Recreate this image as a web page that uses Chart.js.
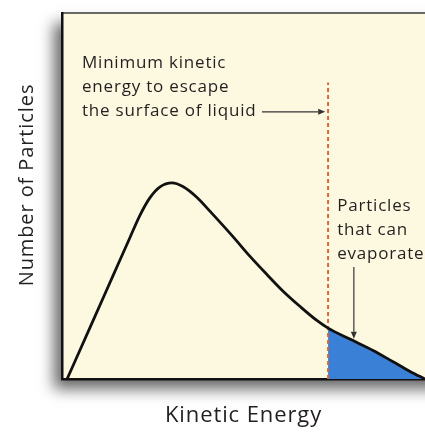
<!DOCTYPE html>
<html><head><meta charset="utf-8">
<script src="https://cdn.jsdelivr.net/npm/chart.js@4/dist/chart.umd.min.js"></script>
<style>html,body{margin:0;padding:0;background:#fff;overflow:hidden}#wrap{width:425px;height:432px}</style>
</head><body><div id="wrap"><canvas id="c" width="425" height="432"></canvas></div>
<script>
// ---- data ----
const energy    = [1.4, 8.5, 14.0, 18.7, 21.5, 24.2, 27.0, 30.3, 33.3, 37.2, 40.8, 47.1, 51.8, 56.5, 60.9, 65.6, 70.2, 73.3, 79.3, 85.7, 91.2, 96.0, 100];
const particles = [0, 15.8, 28.1, 38.6, 44.8, 49.5, 52.5, 53.6, 52.6, 49.6, 45.8, 38.9, 33.5, 28.5, 24.0, 19.8, 16.0, 13.9, 10.9, 7.8, 4.7, 2.0, 0];
const minEnergy = 73.3;          // minimum kinetic energy to escape
const thresholdTop = 81;
const xTitle = 'Kinetic Energy';
const yTitle = 'Number of Particles';
const escapeNote = ['Minimum kinetic', 'energy to escape', 'the surface of liquid'];
const evaporateNote = ['Particles', 'that can', 'evaporate'];

const curve = energy.map((x, i) => ({x, y: particles[i]}));
const tail = curve.filter(p => p.x >= minEnergy);
const threshold = [{x: minEnergy, y: 0}, {x: minEnergy, y: thresholdTop}];

const FONT = "'Open Sans', 'DejaVu Sans', sans-serif";

const boxPlugin = {
  id: 'box',
  beforeDraw(chart) {
    const {ctx, chartArea: a, width, height} = chart;
    ctx.letterSpacing = '0.9px';
    ctx.save();
    ctx.fillStyle = '#ffffff';
    ctx.fillRect(0, 0, width, height);
    ctx.shadowColor = 'rgba(0,0,0,0.6)';
    ctx.shadowBlur = 14;
    ctx.shadowOffsetX = -8;
    ctx.shadowOffsetY = 10;
    ctx.fillStyle = '#fdf9e1';
    ctx.fillRect(a.left, a.top, a.right - a.left + 40, a.bottom - a.top);
    ctx.restore();
    ctx.save();
    ctx.strokeStyle = '#3a3a3a';
    ctx.lineWidth = 1.5;
    ctx.beginPath();
    ctx.moveTo(a.left, a.top);
    ctx.lineTo(width, a.top);
    ctx.stroke();
    // y-axis title, centred on the labelled span of the axis
    ctx.fillStyle = '#231f20';
    ctx.font = '20px ' + FONT;
    ctx.letterSpacing = '0.9px';
    ctx.textAlign = 'center';
    ctx.textBaseline = 'middle';
    ctx.translate(27, (a.top + a.bottom) / 2 - 11);
    ctx.rotate(-Math.PI / 2);
    ctx.fillText(yTitle, 0, 0);
    ctx.restore();
  }
};

function arrow(ctx, x1, y1, x2, y2) {
  const ang = Math.atan2(y2 - y1, x2 - x1);
  const L = 7, W = 3;
  const c = Math.cos(ang), s = Math.sin(ang);
  ctx.beginPath();
  ctx.moveTo(x1, y1);
  ctx.lineTo(x2 - L * c, y2 - L * s);
  ctx.stroke();
  ctx.beginPath();
  ctx.moveTo(x2, y2);
  ctx.lineTo(x2 - L * c - W * s, y2 - L * s + W * c);
  ctx.lineTo(x2 - L * c + W * s, y2 - L * s - W * c);
  ctx.closePath();
  ctx.fill();
}

const notesPlugin = {
  id: 'notes',
  afterDatasetsDraw(chart) {
    const {ctx, scales: {x, y}} = chart;
    ctx.save();
    ctx.fillStyle = '#231f20';
    ctx.font = '17px ' + FONT;
    ctx.letterSpacing = '0.8px';
    ctx.textAlign = 'left';
    ctx.textBaseline = 'middle';
    const lh = 24;
    let px = x.getPixelForValue(5.5), py = y.getPixelForValue(86.3);
    escapeNote.forEach((t, i) => ctx.fillText(t, px, py + i * lh));
    px = x.getPixelForValue(75.8); py = y.getPixelForValue(47.3);
    evaporateNote.forEach((t, i) => ctx.fillText(t, px, py + i * lh));
    ctx.strokeStyle = '#333';
    ctx.fillStyle = '#333';
    ctx.lineWidth = 1.2;
    arrow(ctx, x.getPixelForValue(55.1), y.getPixelForValue(73.0), x.getPixelForValue(72.5), y.getPixelForValue(73.0));
    arrow(ctx, x.getPixelForValue(80.4), y.getPixelForValue(30.6), x.getPixelForValue(80.4), y.getPixelForValue(11));
    ctx.restore();
  }
};

new Chart(document.getElementById('c'), {
  type: 'line',
  data: {
    datasets: [
      {
        label: 'evaporate',
        data: tail,
        borderWidth: 0,
        borderColor: 'rgba(0,0,0,0)',
        backgroundColor: '#3a80d6',
        fill: 'origin',
        pointRadius: 0,
        cubicInterpolationMode: 'monotone',
        order: 3
      },
      {
        label: 'threshold',
        data: threshold,
        borderColor: '#d8683c',
        borderWidth: 2,
        borderDash: [4, 3],
        pointRadius: 0,
        fill: false,
        tension: 0,
        order: 2
      },
      {
        label: 'distribution',
        data: curve,
        borderColor: '#111111',
        borderWidth: 2.8,
        pointRadius: 0,
        fill: false,
        cubicInterpolationMode: 'monotone',
        order: 1
      }
    ]
  },
  options: {
    responsive: false,
    animation: false,
    devicePixelRatio: 1,
    layout: {padding: {left: 62, right: 0, top: 13, bottom: 0}},
    plugins: {legend: {display: false}, tooltip: {enabled: false}},
    scales: {
      x: {
        type: 'linear', min: 0, max: 100,
        ticks: {display: false},
        grid: {display: false, drawTicks: false},
        border: {display: true, color: '#111', width: 2.5},
        title: {display: true, text: xTitle, color: '#231f20',
                font: {family: FONT, size: 22}, padding: {top: 23.3, bottom: 3.3}}
      },
      y: {
        type: 'linear', min: 0, max: 100,
        ticks: {display: false},
        grid: {display: false, drawTicks: false},
        border: {display: true, color: '#111', width: 2.5},
        title: {display: false, text: yTitle}
      }
    }
  },
  plugins: [boxPlugin, notesPlugin]
});
</script>
</body></html>
